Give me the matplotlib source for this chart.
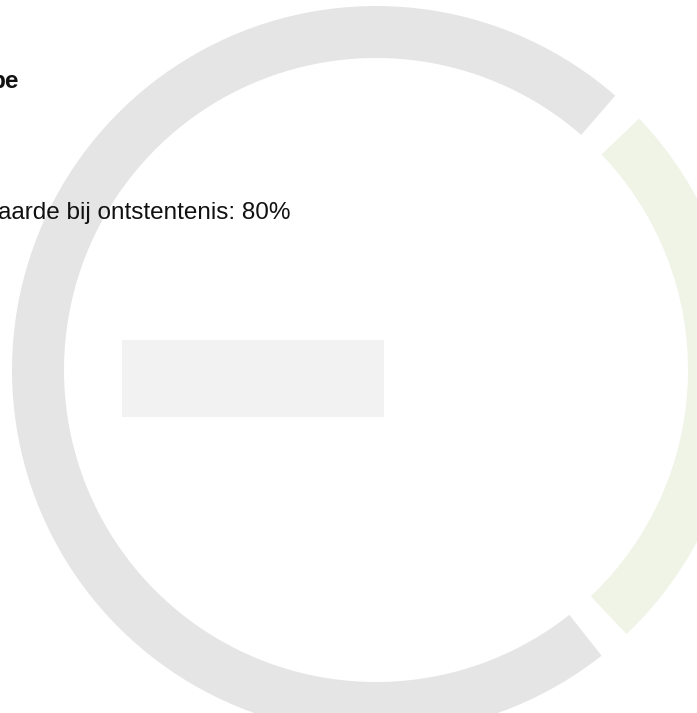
import matplotlib
matplotlib.use("Agg")
import matplotlib.pyplot as plt
from matplotlib.patches import Wedge, Rectangle

# Data
categories = ["Groen", "Grijs"]
values = [26.5, 73.5]
colors = ["#f0f4e6", "#e5e5e5"]
title_text = "pe"
subtitle_text = "aarde bij ontstentenis: 80%"

W, H = 697, 713
fig = plt.figure(figsize=(W / 100, H / 100), dpi=100)
ax = fig.add_axes([0, 0, 1, 1])
ax.set_xlim(0, W)
ax.set_ylim(H, 0)
ax.set_aspect("equal")
ax.axis("off")

cx, cy = 376, 370
r_out, r_in = 364, 312
gap = 5.2
start = -46.5 - gap / 2
total = sum(values)
theta = start
for v, c in zip(values, colors):
    span = v / total * 360
    t1 = theta + gap / 2
    t2 = theta + span - gap / 2
    w = Wedge((cx, cy), r_out, -t2, -t1, width=r_out - r_in, facecolor=c, edgecolor="none")
    ax.add_patch(w)
    theta += span

ax.add_patch(Rectangle((122, 340), 262, 77, facecolor="#f2f2f2", edgecolor="none"))

ax.text(19, 88, title_text, ha="right", va="baseline", fontsize=17.5,
        fontweight="bold", family="Liberation Sans", color="#111111")
ax.text(291, 219, subtitle_text, ha="right", va="baseline", fontsize=17.5,
        family="Liberation Sans", color="#111111")

fig.savefig("out.png", dpi=100)
